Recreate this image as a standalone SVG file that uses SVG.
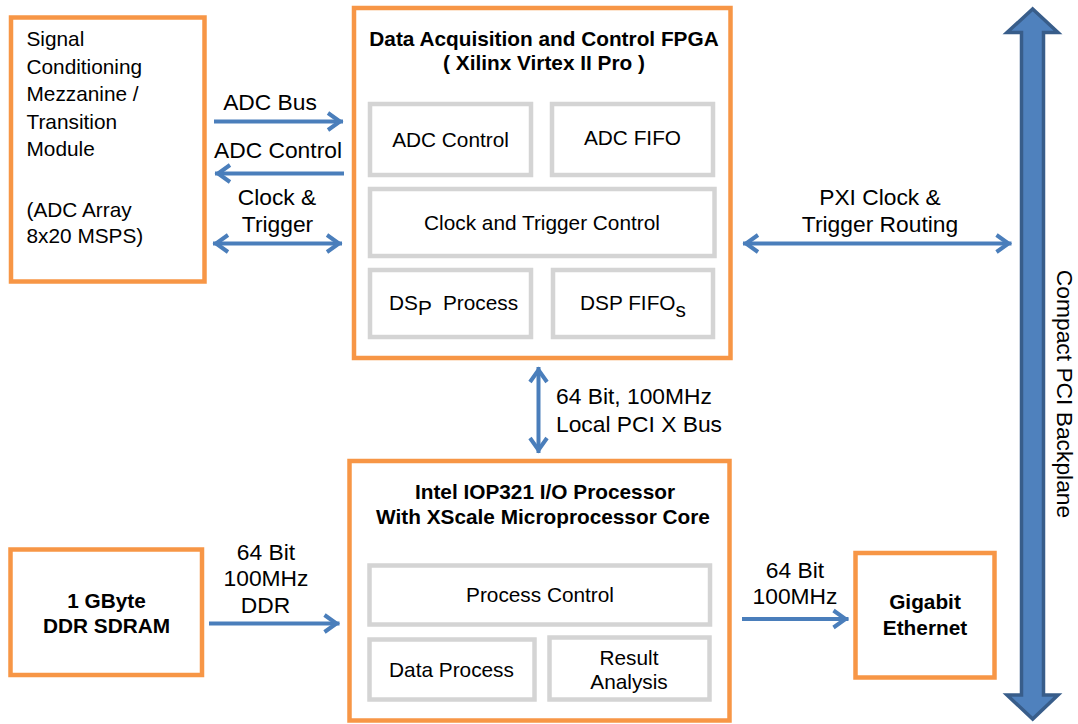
<svg xmlns="http://www.w3.org/2000/svg" width="1078" height="724" viewBox="0 0 1078 724">
<style>
text{font-family:"Liberation Sans",Arial,sans-serif;font-size:20.8px;fill:#000}
.b{font-weight:bold}
.m{text-anchor:middle}
.lb{font-size:22.8px}
.ob{fill:#fff;stroke:#f79646;stroke-width:4.5}
.ib{fill:#fff;stroke:#d4d4d4;stroke-width:4.5}
.ln{stroke:#4a7ebb;stroke-width:4;fill:none}
</style>
<defs>
<marker id="ah" markerUnits="userSpaceOnUse" viewBox="-20 -12 24 24" markerWidth="24" markerHeight="24" refX="0" refY="0" orient="auto-start-reverse">
<path d="M-15,-8.5 L-3,0 L-15,8.5" fill="none" stroke="#4a7ebb" stroke-width="4"/>
</marker>
</defs>
<rect width="1078" height="724" fill="#fff"/>

<g id="backplane">
<polygon points="1032.7,9 1058,32.5 1043.5,32.5 1043.5,695 1058,695 1032.7,719 1007,695 1021.5,695 1021.5,32.5 1007,32.5" fill="#4f81bd" stroke="#385d8a" stroke-width="3.5" stroke-linejoin="miter"/>
<text class="m lb" transform="translate(1056.5,394) rotate(90)">Compact PCI Backplane</text>
</g>

<g id="signal-conditioning">
<rect class="ob" x="11" y="17.5" width="193.5" height="264"/>
<text x="26.5" y="46">Signal</text>
<text x="26.5" y="74">Conditioning</text>
<text x="26.5" y="101">Mezzanine /</text>
<text x="26.5" y="128.5">Transition</text>
<text x="26.5" y="155.5">Module</text>
<text x="26.5" y="217">(ADC Array</text>
<text x="26.5" y="243">8x20 MSPS)</text>
</g>

<g id="fpga">
<rect class="ob" x="354" y="8" width="376.5" height="350"/>
<text class="b m" x="544" y="45.5">Data Acquisition and Control FPGA</text>
<text class="b m" x="544" y="70">( Xilinx Virtex II Pro )</text>
<g id="adc-control"><rect class="ib" x="370" y="104" width="161" height="71"/><text class="m" x="450.5" y="146.5">ADC Control</text></g>
<g id="adc-fifo"><rect class="ib" x="552" y="104" width="161" height="71"/><text class="m" x="632.5" y="145">ADC FIFO</text></g>
<g id="clock-trigger-control"><rect class="ib" x="370" y="189" width="344.5" height="67"/><text class="m" x="542" y="230">Clock and Trigger Control</text></g>
<g id="dsp-process"><rect class="ib" x="370" y="270" width="161" height="67"/><text x="389" y="310" xml:space="preserve">DS<tspan dy="5">P</tspan><tspan dy="-5">  Process</tspan></text></g>
<g id="dsp-fifos"><rect class="ib" x="553" y="270" width="160" height="67"/><text x="580" y="310">DSP FIFO<tspan dy="7">s</tspan></text></g>
</g>

<g id="iop321">
<rect class="ob" x="349.5" y="461" width="380" height="259.5"/>
<text class="b m" x="545" y="498.5">Intel IOP321 I/O Processor</text>
<text class="b m" x="543" y="523.5">With XScale Microprocessor Core</text>
<g id="process-control"><rect class="ib" x="369.5" y="565.5" width="340.5" height="59"/><text class="m" x="540" y="601.5">Process Control</text></g>
<g id="data-process"><rect class="ib" x="369.5" y="639.5" width="165" height="60"/><text class="m" x="451.5" y="676.5">Data Process</text></g>
<g id="result-analysis"><rect class="ib" x="549.5" y="637.5" width="160" height="62"/><text class="m" x="629" y="665">Result</text><text class="m" x="629" y="688.5">Analysis</text></g>
</g>

<g id="ddr-sdram">
<rect class="ob" x="10.5" y="549.5" width="191.5" height="125.5"/>
<text class="b m" x="106.5" y="607.5">1 GByte</text>
<text class="b m" x="106.5" y="632.5">DDR SDRAM</text>
</g>

<g id="gigabit-ethernet">
<rect class="ob" x="855.5" y="553" width="139" height="124.5"/>
<text class="b m" x="925" y="609">Gigabit</text>
<text class="b m" x="925" y="635">Ethernet</text>
</g>

<g id="connectors">
<line class="ln" x1="214" y1="121.5" x2="343" y2="121.5" marker-end="url(#ah)"/>
<text class="m lb" x="270" y="110">ADC Bus</text>
<line class="ln" x1="344" y1="173.5" x2="215" y2="173.5" marker-end="url(#ah)"/>
<text class="m lb" x="278" y="157.5">ADC Control</text>
<line class="ln" x1="213" y1="243.5" x2="342" y2="243.5" marker-start="url(#ah)" marker-end="url(#ah)"/>
<text class="m lb" x="277" y="205">Clock &amp;</text>
<text class="m lb" x="277.5" y="231.5">Trigger</text>
<line class="ln" x1="743" y1="243.5" x2="1011.5" y2="243.5" marker-start="url(#ah)" marker-end="url(#ah)"/>
<text class="m lb" x="880" y="204.5">PXI Clock &amp;</text>
<text class="m lb" x="880" y="231.5">Trigger Routing</text>
<line class="ln" x1="538.5" y1="367" x2="538.5" y2="453" marker-start="url(#ah)" marker-end="url(#ah)"/>
<text class="lb" x="556" y="403.5">64 Bit, 100MHz</text>
<text class="lb" x="556" y="431.5">Local PCI X Bus</text>
<line class="ln" x1="209" y1="623.5" x2="339.5" y2="623.5" marker-end="url(#ah)"/>
<text class="m lb" x="266" y="559.5">64 Bit</text>
<text class="m lb" x="266" y="586">100MHz</text>
<text class="m lb" x="265.5" y="612.5">DDR</text>
<line class="ln" x1="742" y1="619" x2="848.5" y2="619" marker-end="url(#ah)"/>
<text class="m lb" x="795" y="577.5">64 Bit</text>
<text class="m lb" x="795" y="603.5">100MHz</text>
</g>
</svg>
